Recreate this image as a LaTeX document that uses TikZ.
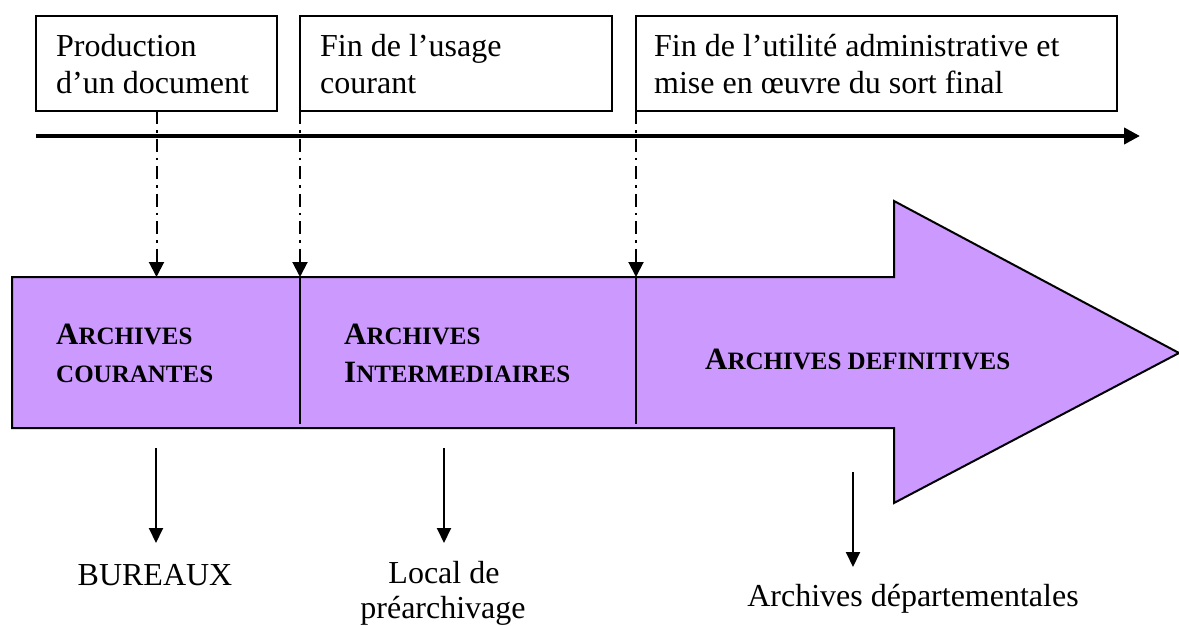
\documentclass[tikz,border=0pt]{standalone}
\usepackage{fontspec}
\setmainfont{Liberation Serif}
\usetikzlibrary{arrows.meta}
\definecolor{lilac}{RGB}{204,153,255}
\newcommand\myBigLetter[1]{{\fontsize{31}{36}\selectfont #1}}
\newcommand\mySmallCaps[1]{{\fontsize{25}{30}\selectfont #1}}
\begin{document}
\begin{tikzpicture}[x=1pt,y=-1pt,
  txt/.style={font=\fontsize{32}{36}\selectfont, inner sep=0pt},
  captxt/.style={font=\bfseries, inner sep=0pt, anchor=base west},
  tbox/.style={draw, line width=1.5pt, inner sep=0pt, outer sep=0pt, anchor=north west, minimum height=95pt},
  ddash/.style={line width=2pt, dash pattern=on 13pt off 6pt on 2.5pt off 6pt, -{Triangle[length=15pt,width=15pt]}},
  down/.style={line width=2pt, -{Triangle[length=15pt,width=14pt]}},
  timeline/.style={line width=4pt, -{Triangle[length=16pt,width=16pt]}},
  bigarrow/.style={draw, fill=lilac, line width=2pt, line join=miter},
  divider/.style={line width=2pt}
]
\useasboundingbox (0,0) rectangle (1179,626);

% top boxes
\node[tbox, minimum width=241pt] (b1) at (36,16) {};
\node[tbox, minimum width=312pt] (b2) at (300,16) {};
\node[tbox, minimum width=481pt] (b3) at (636,16) {};
\node[txt, anchor=base west] (t1a) at (56,57) {Production};
\node[txt, anchor=base west] (t1b) at (56,93) {d’un document};
\node[txt, anchor=base west] (t2a) at (320,57) {Fin de l’usage};
\node[txt, anchor=base west] (t2b) at (320,93) {courant};
\node[txt, anchor=base west] (t3a) at (654,57) {Fin de l’utilité administrative et};
\node[txt, anchor=base west] (t3b) at (654,93) {mise en œuvre du sort final};

% timeline
\coordinate (tl0) at (36,136);
\coordinate (tl1) at (1140,136);
\draw[timeline] (tl0) -- (tl1);

% big arrow
\draw[bigarrow] (12,277) -- (894,277) -- (894,201) -- (1179,353) -- (894,503) -- (894,428) -- (12,428) -- cycle;
\coordinate (p1) at (156.5,277);
\coordinate (p2) at (300,277);
\coordinate (p3) at (636,277);
\coordinate (q2) at (300,424);
\coordinate (q3) at (636,424);
\draw[divider] (p2) -- (q2);
\draw[divider] (p3) -- (q3);

% dash-dot arrows
\draw[ddash] (b1.south) -- (p1);
\draw[ddash] (b2.south west) -- (p2);
\draw[ddash] (b3.south west) -- (p3);

% texts in the big arrow
\node[captxt] (c1) at (56,344) {\myBigLetter{A}\mySmallCaps{RCHIVES}};
\node[captxt] (c2) at (56,382) {\mySmallCaps{COURANTES}};
\node[captxt] (i1) at (344,344) {\myBigLetter{A}\mySmallCaps{RCHIVES}};
\node[captxt] (i2) at (344,382) {\myBigLetter{I}\mySmallCaps{NTERMEDIAIRES}};
\node[captxt] (d1) at (705,369) {\myBigLetter{A}\mySmallCaps{RCHIVES DEFINITIVES}};

% bottom arrows and labels
\coordinate (s1) at (156,448);
\coordinate (e1) at (156,543);
\coordinate (s2) at (444,448);
\coordinate (e2) at (444,543);
\coordinate (s3) at (853,472);
\coordinate (e3) at (853,567);
\draw[down] (s1) -- (e1);
\draw[down] (s2) -- (e2);
\draw[down] (s3) -- (e3);
\node[txt, anchor=base] (l1) at (155,585) {BUREAUX};
\node[txt, anchor=base] (l2a) at (444,583) {Local de};
\node[txt, anchor=base] (l2b) at (443,618) {préarchivage};
\node[txt, anchor=base] (l3) at (913,606) {Archives départementales};
\end{tikzpicture}
\end{document}
